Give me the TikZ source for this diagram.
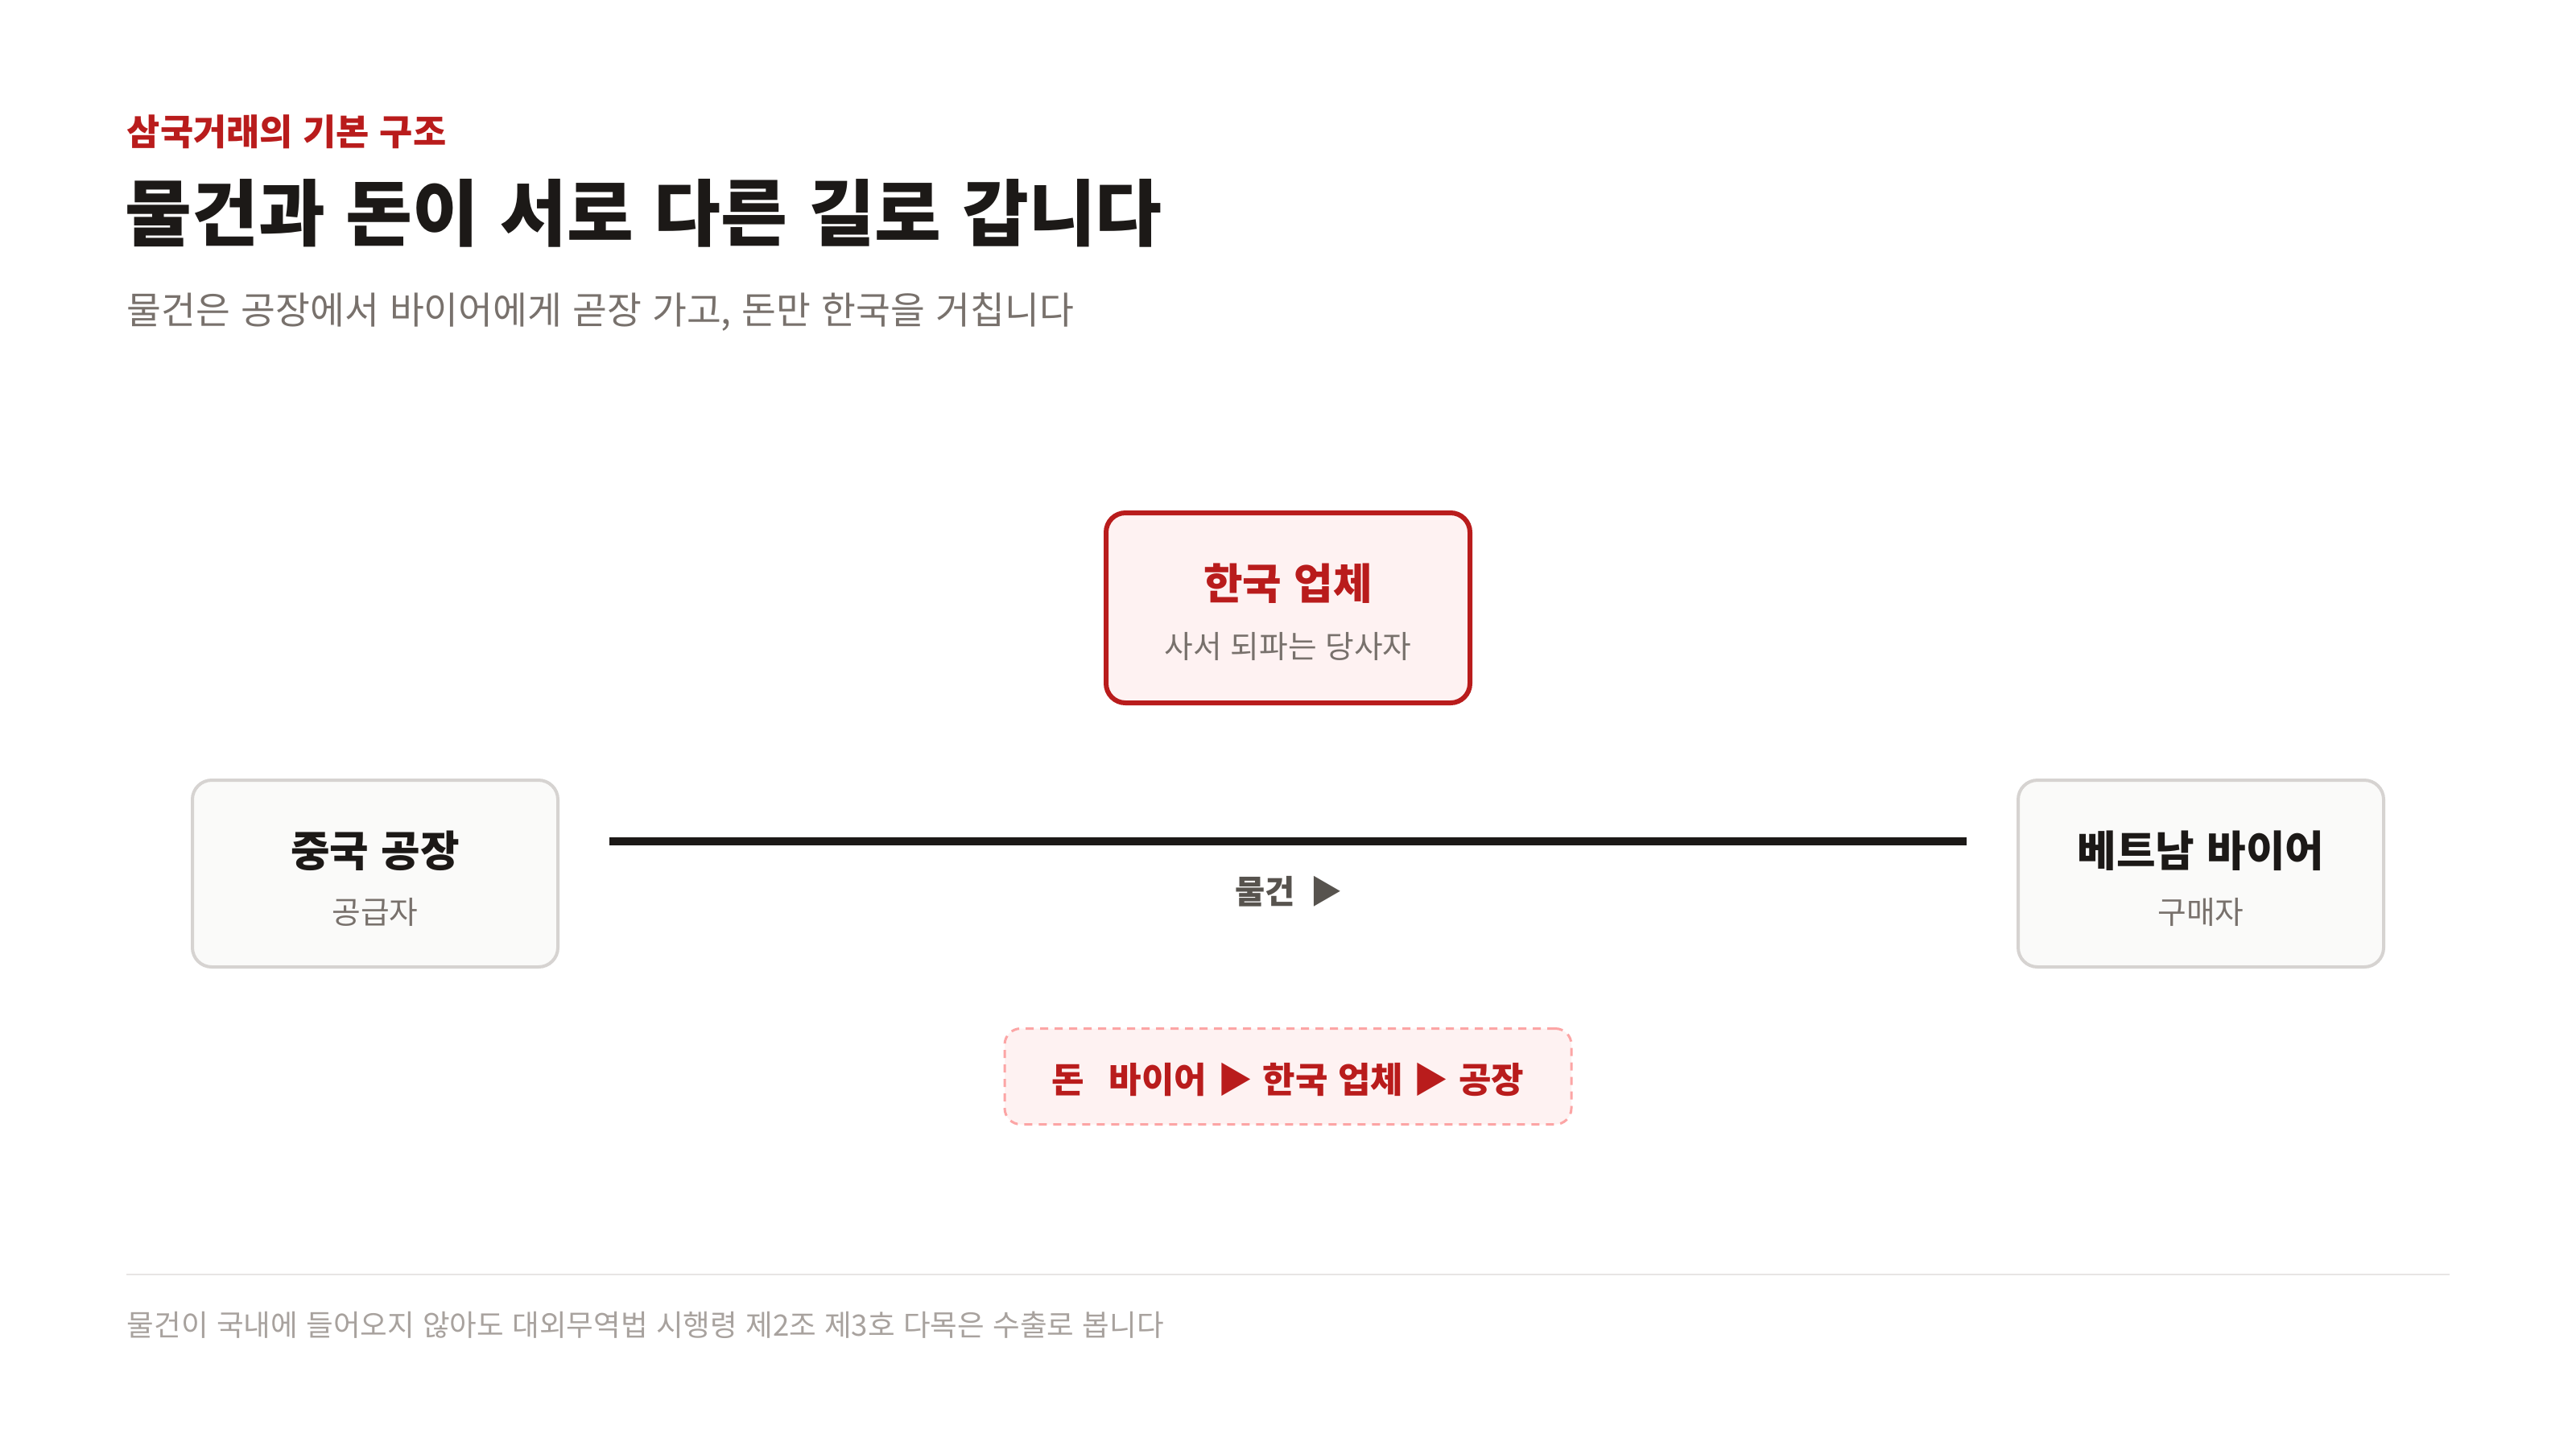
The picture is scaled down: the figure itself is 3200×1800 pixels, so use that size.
\documentclass[tikz,border=0pt]{standalone}
\usepackage{fontspec}
\setmainfont{Noto Sans CJK KR}[WordSpace=1.25]
\definecolor{krred}{HTML}{B91C1C}
\definecolor{ink}{HTML}{1C1917}
\definecolor{subgray}{HTML}{78716C}
\definecolor{labgray}{HTML}{57534E}
\definecolor{footgray}{HTML}{A8A29E}
\definecolor{footline}{HTML}{E7E5E4}
\definecolor{boxline}{HTML}{D6D3D1}
\definecolor{boxfill}{HTML}{FAFAF9}
\definecolor{krfill}{HTML}{FEF2F2}
\definecolor{dashred}{HTML}{FCA5A5}
\tikzset{
  gbox/.style={draw=boxline, line width=1pt, fill=boxfill, rounded corners=6pt,
    minimum width=113.5pt, minimum height=58pt, inner sep=0pt},
  kbox/.style={draw=krred, line width=1.5pt, fill=krfill, rounded corners=6pt,
    minimum width=113pt, minimum height=59pt, inner sep=0pt},
  mbox/.style={draw=dashred, line width=0.75pt, fill=krfill, rounded corners=5pt,
    dash pattern=on 2.5pt off 2pt, minimum width=176pt, minimum height=29.75pt, inner sep=0pt},
  boxtitle/.style={font=\bfseries\fontsize{13.2pt}{15pt}\selectfont, text=ink, inner sep=0pt},
  boxsub/.style={font=\fontsize{9.7pt}{11pt}\selectfont, text=subgray, inner sep=0pt},
  goodsline/.style={draw=ink, line width=2.5pt, shorten <=15.5pt, shorten >=15.5pt},
  goodslabel/.style={font=\bfseries\fontsize{10.1pt}{12pt}\selectfont, text=labgray, inner sep=0pt},
  moneytext/.style={font=\bfseries\fontsize{11pt}{13pt}\selectfont, text=krred, inner sep=0pt},
  eyebrow/.style={font=\bfseries\fontsize{11.2pt}{13pt}\selectfont, text=krred, inner sep=0pt, anchor=west},
  headline/.style={font=\bfseries\fontsize{22.5pt}{26pt}\selectfont, text=ink, inner sep=0pt, anchor=west},
  subline/.style={font=\fontsize{11.65pt}{14pt}\selectfont, text=subgray, inner sep=0pt, anchor=west},
  footnote/.style={font=\fontsize{9.15pt}{11pt}\selectfont, text=footgray, inner sep=0pt, anchor=west},
  divider/.style={draw=footline, line width=0.5pt},
}
\begin{document}
\begin{tikzpicture}[x=0.25pt, y=-0.25pt]
  \useasboundingbox[fill=white] (0,0) rectangle (3200,1800);

  % header
  \node[eyebrow] (eyebrow) at (157,164) {삼국거래의 기본 구조};
  \node[headline] (title) at (155,265) {물건과 돈이 서로 다른 길로 갑니다};
  \node[subline] (subtitle) at (157,388) {물건은 공장에서 바이어에게 곧장 가고, 돈만 한국을 거칩니다};

  % parties
  \node[kbox] (korea) at (1600,755) {};
  \node[boxtitle, text=krred] (koreat) at ([yshift=7.5pt]korea.center) {한국 업체};
  \node[boxsub] (koreas) at ([yshift=-12pt]korea.center) {사서 되파는 당사자};

  \node[gbox] (china) at (466,1085) {};
  \node[boxtitle] (chinat) at ([yshift=7pt]china.center) {중국 공장};
  \node[boxsub] (chinas) at ([yshift=-12pt]china.center) {공급자};

  \node[gbox] (viet) at (2734,1085) {};
  \node[boxtitle] (vietst) at ([yshift=7pt]viet.center) {베트남 바이어};
  \node[boxsub] (vietss) at ([yshift=-12pt]viet.center) {구매자};

  % goods flow
  \draw[goodsline] (china.east |- 0,1045) -- (viet.west |- 0,1045);
  \node[goodslabel] (goods) at (1601,1107) {물건\hspace{0.45em}▶};

  % money flow
  \node[mbox] (money) at (1600,1337) {};
  \node[moneytext] (moneyt) at ([yshift=-1pt]money.center) {돈\hspace{0.7em}바이어 ▶ 한국 업체 ▶ 공장};

  % footer
  \coordinate (fl) at (157,1583);
  \coordinate (fr) at (3043,1583);
  \draw[divider] (fl) -- (fr);
  \node[footnote] (foot) at (157,1646) {물건이 국내에 들어오지 않아도 대외무역법 시행령 제2조 제3호 다목은 수출로 봅니다};
\end{tikzpicture}
\end{document}
